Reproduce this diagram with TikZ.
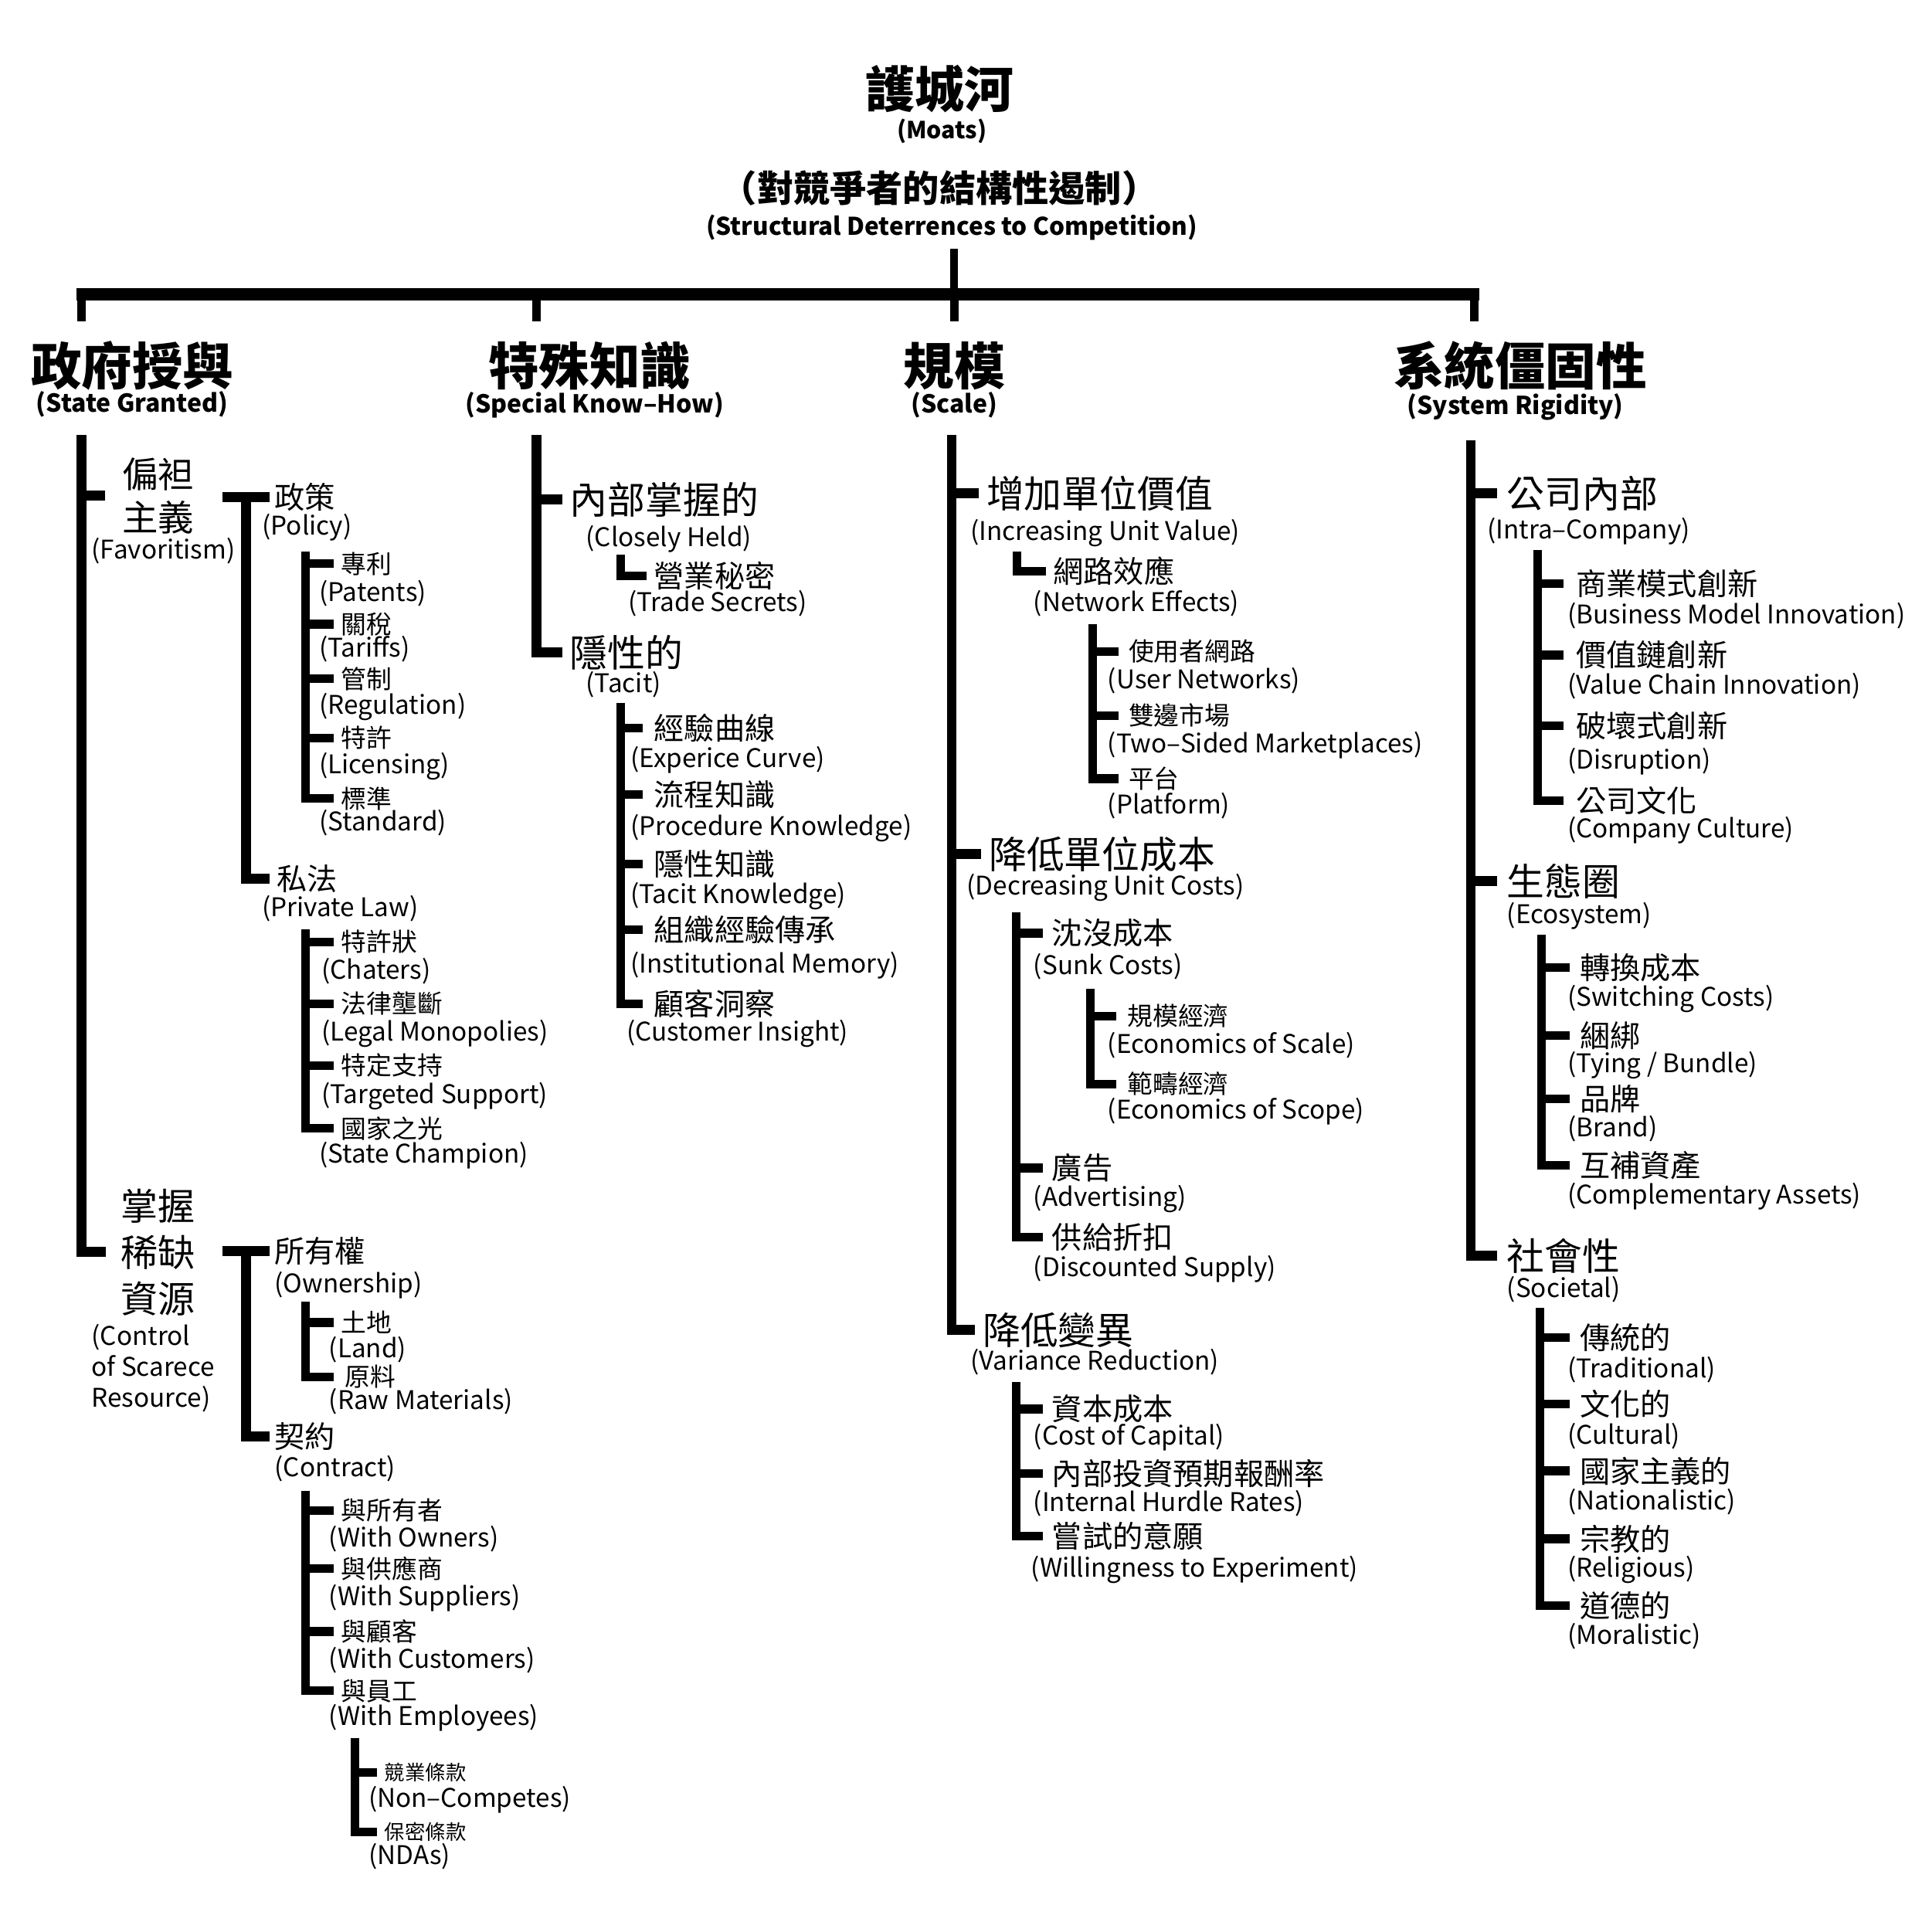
\documentclass[tikz,border=0pt]{standalone}
\usepackage{fontspec}
\setmainfont{Noto Sans CJK TC}
\begin{document}
\begin{tikzpicture}[x=1pt,y=-1pt,
  brk/.style={line width=8pt},
  brs/.style={line width=7pt},
  hA/.style={font=\fontsize{30.5}{36}\selectfont, anchor=west, inner xsep=6pt, inner ysep=0pt},
  hB/.style={font=\fontsize{24.5}{30}\selectfont, anchor=west, inner xsep=6pt, inner ysep=0pt},
  hC/.style={font=\fontsize{20.5}{25}\selectfont, anchor=west, inner xsep=6pt, inner ysep=0pt},
  hD/.style={font=\fontsize{16.5}{20}\selectfont, anchor=west, inner xsep=6pt, inner ysep=0pt},
  en/.style={font=\fontsize{20.8}{25}\selectfont, anchor=west, inner sep=0pt},
  cat/.style={font=\bfseries\fontsize{41}{48}\selectfont, inner sep=0pt},
  catE/.style={font=\bfseries\fontsize{20}{24}\selectfont, inner sep=0pt}
]
\fill[white] (0,0) rectangle (1562.5,1563.1);
\useasboundingbox (0,0) rectangle (1562.5,1563.1);

% ---------- title ----------
\node[font=\bfseries\fontsize{40}{48}\selectfont, inner sep=0pt] (root) at (760,72) {護城河};
\node[font=\bfseries\fontsize{19}{24}\selectfont, inner sep=0pt] (rootE) at (762,106) {(Moats)};
\node[font=\bfseries\fontsize{29.5}{34}\selectfont, inner sep=0pt] (sub) at (760,152) {（對競爭者的結構性遏制）};
\node[font=\bfseries\fontsize{19.7}{24}\selectfont, inner sep=0pt] (subE) at (770,184) {(Structural Deterrences to Competition)};

\coordinate (stemtop) at (772,201);
\coordinate (barL) at (62,238);
\coordinate (barR) at (1197,238);
\coordinate (dend) at (0,260);
\coordinate (d1) at (66,238);
\coordinate (d2) at (434,238);
\coordinate (d3) at (772,238);
\coordinate (d4) at (1193,238);
\draw[line width=6pt] (stemtop) -- (stemtop |- barL);
\draw[line width=10pt] (barL) -- (barR);
\foreach \d in {d1,d2,d3,d4} \draw[line width=7pt] (\d) -- (\d |- dend);

% ---------- categories ----------
\node[cat] (cat1) at (107,296) {政府授與};
\node[catE] (cat1E) at (107,327) {(State Granted)};
\node[cat] (cat2) at (477,296) {特殊知識};
\node[catE] (cat2E) at (481,328) {(Special Know–How)};
\node[cat] (cat3) at (772,296) {規模};
\node[catE] (cat3E) at (772,328) {(Scale)};
\node[cat] (cat4) at (1230,296) {系統僵固性};
\node[catE] (cat4E) at (1226,329) {(System Rigidity)};

% ================= Column 1 =================
\coordinate (c1t) at (66,352);
\node[font=\fontsize{29}{35}\selectfont, align=center, inner xsep=14pt, inner ysep=0pt] (fav) at (128,401) {偏袒\\主義};
\node[en] (favE) at (74,446) {(Favoritism)};
\node[font=\fontsize{30}{37.5}\selectfont, align=center, inner xsep=12pt, inner ysep=0pt] (scarce) at (128,1013) {掌握\\稀缺\\資源};
\node[en, align=left] (scarceE) at (74,1107) {(Control\\of Scarece\\Resource)};
\draw[brk] (c1t) |- (scarce.west);
\draw[brk] (c1t |- fav.west) -- (fav.west);

% favoritism bracket
\node[hB, inner xsep=4pt] (policy) at (218,402) {政策};
\node[en] (policyE) at (212,427) {(Policy)};
\node[hB] (privlaw) at (218,711) {私法};
\node[en] (privlawE) at (212,735) {(Private Law)};
\coordinate (f1) at (180,402);
\coordinate (f1v) at (199,402);
\draw[brk] (f1) -- (policy.west);
\draw[brk] (f1v) |- (privlaw.west);

% policy
\coordinate (p1) at (247,446);
\node[hC] (patents) at (270,456) {專利};
\node[en] (patentsE) at (258,480) {(Patents)};
\node[hC] (tariffs) at (270,505) {關稅};
\node[en] (tariffsE) at (258,525) {(Tariffs)};
\node[hC] (regul) at (270,549) {管制};
\node[en] (regulE) at (258,572) {(Regulation)};
\node[hC] (licens) at (270,597) {特許};
\node[en] (licensE) at (258,620) {(Licensing)};
\node[hC] (stand) at (270,646) {標準};
\node[en] (standE) at (258,666) {(Standard)};
\draw[brs] (p1) |- (stand.west);
\foreach \n in {patents,tariffs,regul,licens} \draw[brs] (p1 |- \n.west) -- (\n.west);

% private law
\coordinate (p2) at (247,752);
\node[hC] (chaters) at (270,762) {特許狀};
\node[en] (chatersE) at (260,786) {(Chaters)};
\node[hC] (legal) at (270,812) {法律壟斷};
\node[en] (legalE) at (260,836) {(Legal Monopolies)};
\node[hC] (target) at (270,862) {特定支持};
\node[en] (targetE) at (260,887) {(Targeted Support)};
\node[hC] (champ) at (270,913) {國家之光};
\node[en] (champE) at (258,935) {(State Champion)};
\draw[brs] (p2) |- (champ.west);
\foreach \n in {chaters,legal,target} \draw[brs] (p2 |- \n.west) -- (\n.west);

% scarce bracket
\node[hB, inner xsep=4pt] (owner) at (218,1012) {所有權};
\node[en] (ownerE) at (222,1040) {(Ownership)};
\node[hB, inner xsep=4pt] (contract) at (218,1162) {契約};
\node[en] (contractE) at (222,1188) {(Contract)};
\coordinate (s1) at (180,1012);
\coordinate (s1v) at (199,1012);
\draw[brk] (s1) -- (owner.west);
\draw[brk] (s1v) |- (contract.west);

% ownership
\coordinate (o1) at (247,1053);
\node[hC] (land) at (270,1070) {土地};
\node[en] (landE) at (266,1092) {(Land)};
\node[hC, inner xsep=9pt] (raw) at (270,1114) {原料};
\node[en] (rawE) at (266,1134) {(Raw Materials)};
\draw[brs] (o1) |- (raw.west);
\draw[brs] (o1 |- land.west) -- (land.west);

% contract
\coordinate (k1) at (247,1206);
\node[hC] (wown) at (270,1222) {與所有者};
\node[en] (wownE) at (266,1245) {(With Owners)};
\node[hC] (wsup) at (270,1269) {與供應商};
\node[en] (wsupE) at (266,1293) {(With Suppliers)};
\node[hC] (wcus) at (270,1320) {與顧客};
\node[en] (wcusE) at (266,1343) {(With Customers)};
\node[hC] (wemp) at (270,1368) {與員工};
\node[en] (wempE) at (266,1390) {(With Employees)};
\draw[brs] (k1) |- (wemp.west);
\foreach \n in {wown,wsup,wcus} \draw[brs] (k1 |- \n.west) -- (\n.west);

% employees
\coordinate (e1) at (287,1406);
\node[hD] (noncomp) at (305,1434) {競業條款};
\node[en] (noncompE) at (298,1456) {(Non–Competes)};
\node[hD] (nda) at (305,1482) {保密條款};
\node[en] (ndaE) at (298,1502) {(NDAs)};
\draw[brs] (e1) |- (nda.west);
\draw[brs] (e1 |- noncomp.west) -- (noncomp.west);

% ================= Column 2 =================
\coordinate (c2t) at (434,352);
\node[hA] (closely) at (455,404) {內部掌握的};
\node[en] (closelyE) at (474,436) {(Closely Held)};
\node[hA] (tacit) at (455,528) {隱性的};
\node[en] (tacitE) at (474,554) {(Tacit)};
\draw[brk] (c2t) |- (tacit.west);
\draw[brk] (c2t |- closely.west) -- (closely.west);

\coordinate (cl1) at (502,449);
\node[hB] (trade) at (523,466) {營業秘密};
\node[en] (tradeE) at (508,488) {(Trade Secrets)};
\draw[brs] (cl1) |- (trade.west);

\coordinate (t1) at (502,569);
\node[hB, inner xsep=9pt] (expc) at (520,589) {經驗曲線};
\node[en] (expcE) at (510,615) {(Experice Curve)};
\node[hB, inner xsep=9pt] (proc) at (520,643) {流程知識};
\node[en] (procE) at (510,670) {(Procedure Knowledge)};
\node[hB, inner xsep=9pt] (tack) at (520,699) {隱性知識};
\node[en] (tackE) at (510,725) {(Tacit Knowledge)};
\node[hB, inner xsep=9pt] (inst) at (520,752) {組織經驗傳承};
\node[en] (instE) at (510,781) {(Institutional Memory)};
\node[hB, inner xsep=9pt] (cust) at (520,812) {顧客洞察};
\node[en] (custE) at (507,836) {(Customer Insight)};
\draw[brs] (t1) |- (cust.west);
\foreach \n in {expc,proc,tack,inst} \draw[brs] (t1 |- \n.west) -- (\n.west);

% ================= Column 3 =================
\coordinate (c3t) at (770,352);
\node[hA] (iuv) at (792,399) {增加單位價值};
\node[en] (iuvE) at (785,431) {(Increasing Unit Value)};
\node[hA] (duc) at (794,691) {降低單位成本};
\node[en] (ducE) at (782,718) {(Decreasing Unit Costs)};
\node[hA] (vr) at (789,1076) {降低變異};
\node[en] (vrE) at (785,1102) {(Variance Reduction)};
\draw[brk] (c3t) |- (vr.west);
\foreach \n in {iuv,duc} \draw[brk] (c3t |- \n.west) -- (\n.west);

\coordinate (iu1) at (823,446);
\node[hB] (neteff) at (846,462) {網路效應};
\node[en] (neteffE) at (836,488) {(Network Effects)};
\draw[brs] (iu1) |- (neteff.west);

\coordinate (ne1) at (884,505);
\node[hC, inner xsep=8pt] (usernet) at (905,527) {使用者網路};
\node[en] (usernetE) at (896,551) {(User Networks)};
\node[hC, inner xsep=8pt] (twoside) at (905,579) {雙邊市場};
\node[en] (twosideE) at (896,603) {(Two–Sided Marketplaces)};
\node[hC, inner xsep=8pt] (platform) at (905,630) {平台};
\node[en] (platformE) at (896,652) {(Platform)};
\draw[brs] (ne1) |- (platform.west);
\foreach \n in {usernet,twoside} \draw[brs] (ne1 |- \n.west) -- (\n.west);

\coordinate (du1) at (822,738);
\node[hB, inner xsep=7pt] (sunk) at (844,755) {沈沒成本};
\node[en] (sunkE) at (836,782) {(Sunk Costs)};
\node[hB, inner xsep=7pt] (advert) at (844,945) {廣告};
\node[en] (advertE) at (836,970) {(Advertising)};
\node[hB, inner xsep=7pt] (discount) at (844,1001) {供給折扣};
\node[en] (discountE) at (836,1027) {(Discounted Supply)};
\draw[brs] (du1) |- (discount.west);
\foreach \n in {sunk,advert} \draw[brs] (du1 |- \n.west) -- (\n.west);

\coordinate (sk1) at (882,800);
\node[hC, inner xsep=9pt] (eos) at (903,822) {規模經濟};
\node[en] (eosE) at (896,846) {(Economics of Scale)};
\node[hC, inner xsep=9pt] (eosc) at (903,877) {範疇經濟};
\node[en] (eoscE) at (896,899) {(Economics of Scope)};
\draw[brs] (sk1) |- (eosc.west);
\draw[brs] (sk1 |- eos.west) -- (eos.west);

\coordinate (vr1) at (822,1118);
\node[hB, inner xsep=7pt] (coc) at (844,1140) {資本成本};
\node[en] (cocE) at (836,1163) {(Cost of Capital)};
\node[hB, inner xsep=7pt] (ihr) at (844,1192) {內部投資預期報酬率};
\node[en] (ihrE) at (836,1216) {(Internal Hurdle Rates)};
\node[hB, inner xsep=7pt] (wte) at (844,1243) {嘗試的意願};
\node[en] (wteE) at (834,1270) {(Willingness to Experiment)};
\draw[brs] (vr1) |- (wte.west);
\foreach \n in {coc,ihr} \draw[brs] (vr1 |- \n.west) -- (\n.west);

% ================= Column 4 =================
\coordinate (c4t) at (1190,356);
\node[hA, inner xsep=8pt] (intra) at (1211,399) {公司內部};
\node[en] (intraE) at (1203,430) {(Intra–Company)};
\node[hA, inner xsep=8pt] (eco) at (1211,713) {生態圈};
\node[en] (ecoE) at (1219,741) {(Ecosystem)};
\node[hA, inner xsep=8pt] (soc) at (1211,1016) {社會性};
\node[en] (socE) at (1219,1043) {(Societal)};
\draw[brk] (c4t) |- (soc.west);
\foreach \n in {intra,eco} \draw[brk] (c4t |- \n.west) -- (\n.west);

\coordinate (in1) at (1244,445);
\node[hB, inner xsep=10pt] (bmi) at (1265,472) {商業模式創新};
\node[en] (bmiE) at (1268,498) {(Business Model Innovation)};
\node[hB, inner xsep=10pt] (vci) at (1265,530) {價值鏈創新};
\node[en] (vciE) at (1268,555) {(Value Chain Innovation)};
\node[hB, inner xsep=10pt] (disr) at (1265,587) {破壞式創新};
\node[en] (disrE) at (1268,616) {(Disruption)};
\node[hB, inner xsep=10pt] (ccult) at (1265,648) {公司文化};
\node[en] (ccultE) at (1268,672) {(Company Culture)};
\draw[brs] (in1) |- (ccult.west);
\foreach \n in {bmi,vci,disr} \draw[brs] (in1 |- \n.west) -- (\n.west);

\coordinate (ec1) at (1247,756);
\node[hB, inner xsep=8pt] (swc) at (1270,783) {轉換成本};
\node[en] (swcE) at (1268,808) {(Switching Costs)};
\node[hB, inner xsep=8pt] (tying) at (1270,838) {綑綁};
\node[en] (tyingE) at (1268,862) {(Tying / Bundle)};
\node[hB, inner xsep=8pt] (brand) at (1270,889) {品牌};
\node[en] (brandE) at (1268,913) {(Brand)};
\node[hB, inner xsep=8pt] (compl) at (1270,943) {互補資產};
\node[en] (complE) at (1268,968) {(Complementary Assets)};
\draw[brs] (ec1) |- (compl.west);
\foreach \n in {swc,tying,brand} \draw[brs] (ec1 |- \n.west) -- (\n.west);

\coordinate (so1) at (1246,1058);
\node[hB, inner xsep=8pt] (trad) at (1270,1082) {傳統的};
\node[en] (tradE) at (1268,1108) {(Traditional)};
\node[hB, inner xsep=8pt] (cult) at (1270,1136) {文化的};
\node[en] (cultE) at (1268,1162) {(Cultural)};
\node[hB, inner xsep=8pt] (nat) at (1270,1190) {國家主義的};
\node[en] (natE) at (1268,1215) {(Nationalistic)};
\node[hB, inner xsep=8pt] (rel) at (1270,1245) {宗教的};
\node[en] (relE) at (1268,1270) {(Religious)};
\node[hB, inner xsep=8pt] (mor) at (1270,1299) {道德的};
\node[en] (morE) at (1268,1324) {(Moralistic)};
\draw[brs] (so1) |- (mor.west);
\foreach \n in {trad,cult,nat,rel} \draw[brs] (so1 |- \n.west) -- (\n.west);
\end{tikzpicture}
\end{document}
